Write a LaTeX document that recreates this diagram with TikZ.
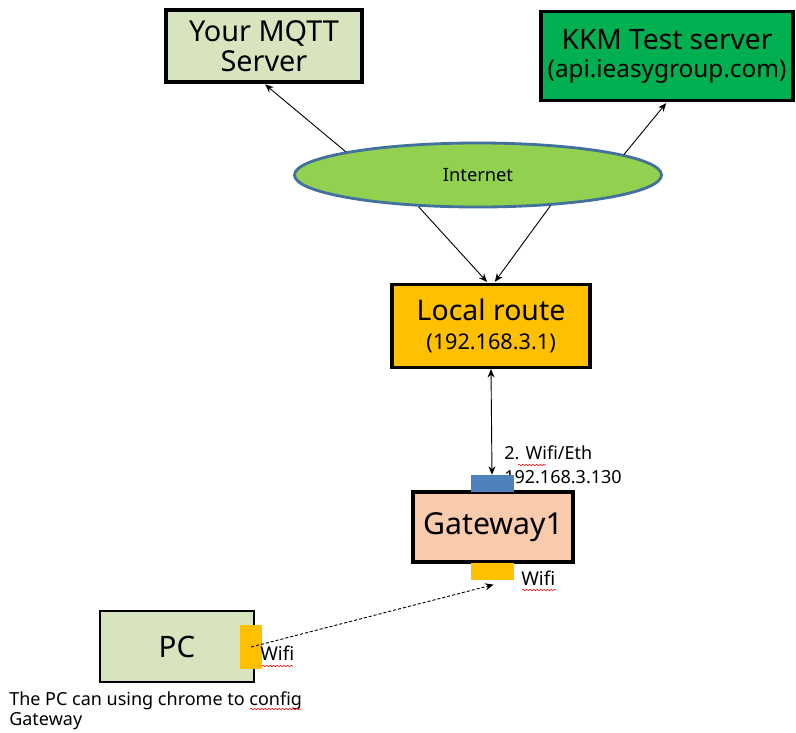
\documentclass[tikz,border=0pt]{standalone}
\usepackage{fontspec}
\setmainfont{Noto Sans}
\usetikzlibrary{calc,arrows.meta,shapes,positioning,decorations.pathmorphing}
\definecolor{paleolive}{HTML}{D7E4BD}
\definecolor{kkmgreen}{HTML}{00B050}
\definecolor{netgreen}{HTML}{92D050}
\definecolor{netedge}{HTML}{41719C}
\definecolor{routeorange}{HTML}{FFC000}
\definecolor{portblue}{HTML}{4F81BD}
\definecolor{gwpeach}{HTML}{F8CBAD}
\tikzset{
    device/.style={
    rectangle,draw=black,line width=2.2pt,align=center,inner sep=0pt,
    font=\fontsize{20.5}{24}\selectfont
    },
    thindevice/.style={
    rectangle,draw=black,line width=0.9pt,inner sep=0pt,
    font=\fontsize{21}{24}\selectfont
    },
    port/.style={
    rectangle,inner sep=0pt,minimum width=1.075cm,minimum height=0.425cm
    },
    lbl/.style={
    align=left,inner sep=0pt,font=\fontsize{12.8}{17}\selectfont
    },
    link/.style={
    -{Stealth[length=6pt,width=5pt]},line width=0.65pt,shorten >=1pt
    },
    typo/.style={
    draw=red,line width=0.4pt,decoration={snake,amplitude=0.5pt,segment length=2.5pt},decorate
    },
}
\begin{document}
\begin{tikzpicture}[x=0.025cm,y=-0.025cm]
   \useasboundingbox (0,0) rectangle (796,732);
   % servers
   \node[device,fill=paleolive,minimum width=4.9cm,minimum height=1.8cm] (mqtt) at (264,46) {Your MQTT\\[-3pt]Server};
   \node[device,fill=kkmgreen,minimum width=6.3cm,minimum height=2.225cm,font=\fontsize{20}{24}\selectfont] (kkm) at (667,56)
        {KKM Test server\\[-4pt]{\fontsize{17.3}{20}\selectfont(api.ieasygroup.com)}};
   \node[ellipse,draw=netedge,line width=2pt,fill=netgreen,inner sep=0pt,minimum width=9.175cm,minimum height=1.6cm,
        font=\fontsize{13}{15}\selectfont] (net) at (478,175) {Internet};
   % router and gateway
   \node[device,fill=routeorange,minimum width=4.95cm,minimum height=2.075cm,font=\fontsize{20.2}{24}\selectfont] (route) at (491,326)
        {Local route\\[-3pt]{\fontsize{15.4}{18}\selectfont(192.168.3.1)}};
   \node[device,fill=gwpeach,minimum width=4cm,minimum height=1.75cm,font=\fontsize{21.5}{24}\selectfont] (gw) at (493,527) {Gateway1};
   \node[lbl,anchor=west] (ethlbl) at (504,465) {2. Wifi/Eth\\192.168.3.130};
   \node[port,fill=portblue] (eth) at (492,483.5) {};
   \node[port,fill=routeorange] (gwwifi) at (492,571.5) {};
   \node[lbl,anchor=west,font=\fontsize{13.5}{16}\selectfont] (gwwifilbl) at (521,578) {Wifi};
   % pc
   \node[thindevice,fill=paleolive,minimum width=3.85cm,minimum height=1.775cm] (pc) at (177,646.5) {PC};
   \node[rectangle,fill=routeorange,inner sep=0pt,minimum width=0.55cm,minimum height=1.1cm] (pcwifi) at (251,647) {};
   \node[lbl,anchor=west,font=\fontsize{13.5}{16}\selectfont] (pcwifilbl) at (260,653) {Wifi};
   \node[lbl,anchor=north west,font=\fontsize{12.8}{14.2}\selectfont] (note) at (9,691)
        {The PC can using chrome to config\\Gateway};

   \draw[link] (net.170) -- (mqtt.south);
   \draw[link] (net.8) -- (kkm.south);
   \draw[link] (net.208) -- ($(route.north)+(-3,0)$);
   \draw[link] (net.337) -- ($(route.north)+(3,0)$);
   \draw[{Stealth[length=6pt,width=5pt]}-{Stealth[length=6pt,width=5pt]},line width=0.65pt] (route.south) -- (eth.north);
   \draw[link,dash pattern=on 2.2pt off 1.4pt] (pcwifi.center) -- ($(gwwifi.south)+(3,4)$);

   % spell check marks
   \draw[typo] (518,465) -- (546,465);
   \draw[typo] (522,590) -- (556,590);
   \draw[typo] (262,666) -- (293,666);
   \draw[typo] (250,709) -- (301,709);
\end{tikzpicture}
\end{document}
